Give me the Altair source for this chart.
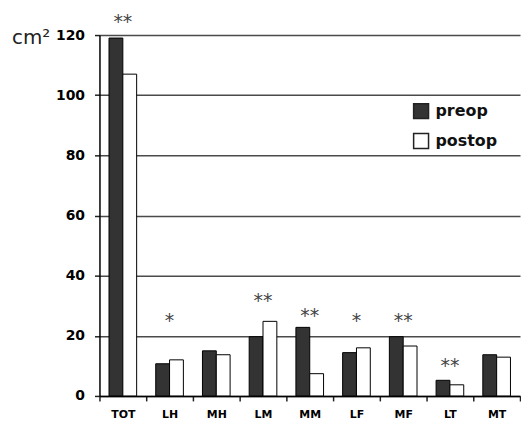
import altair as alt
import pandas as pd

categories = ["TOT", "LH", "MH", "LM", "MM", "LF", "MF", "LT", "MT"]
preop = [119, 10.7, 15.0, 19.7, 22.8, 14.4, 19.7, 5.2, 13.7]
postop = [107, 12.0, 13.7, 24.8, 7.4, 16.0, 16.6, 3.7, 12.9]
stars = ["**", "*", "", "**", "**", "*", "**", "**", ""]
star_y = [122.5, 23, None, 29.6, 24.6, 23, 23, 8.1, None]
groups = ["preop", "postop"]
y_ticks = [0, 20, 40, 60, 80, 100, 120]

rows = []
for c, a, b in zip(categories, preop, postop):
    rows.append({"region": c, "group": "preop", "area": a})
    rows.append({"region": c, "group": "postop", "area": b})
bars_df = pd.DataFrame(rows)
star_df = pd.DataFrame({"region": categories, "label": stars, "y": star_y}).dropna()

x_enc = alt.X(
    "region:N",
    sort=categories,
    scale=alt.Scale(paddingInner=0, paddingOuter=0),
    axis=alt.Axis(
        title=None, labelAngle=0, tickBand="extent", grid=False,
        labelFont="DejaVu Sans", labelFontWeight="bold", labelFontSize=11,
        labelColor="black", tickColor="#222", tickSize=5, tickWidth=1.5,
        domainColor="black", domainWidth=1.5, labelPadding=8,
    ),
)

bars = alt.Chart(bars_df).mark_bar(stroke="black", strokeWidth=1).encode(
    x=x_enc,
    xOffset=alt.XOffset("group:N", sort=groups,
                        scale=alt.Scale(paddingOuter=0.69, paddingInner=0)),
    y=alt.Y(
        "area:Q",
        scale=alt.Scale(domain=[0, 120]),
        axis=alt.Axis(
            values=y_ticks, title="cm²", titleAngle=0, titleAlign="right",
            titleBaseline="alphabetic", titleX=-50, titleY=8,
            titleFont="DejaVu Sans", titleFontWeight="normal", titleFontSize=20,
            titleColor="#222",
            labelFont="DejaVu Sans", labelFontWeight="bold", labelFontSize=14,
            labelColor="black", labelPadding=10,
            tickColor="#222", tickSize=5, tickWidth=1.5,
            domainColor="black", domainWidth=1.5,
            grid=True, gridColor="#4a4a4a", gridWidth=1.5,
        ),
    ),
    fill=alt.Fill(
        "group:N", sort=groups,
        scale=alt.Scale(domain=groups, range=["#333333", "#ffffff"]),
        legend=alt.Legend(
            title=None, orient="none", legendX=315, legendY=68, padding=0,
            symbolType="square", symbolSize=225, symbolStrokeColor="#222",
            symbolStrokeWidth=1.5, labelFont="DejaVu Sans", labelFontWeight="bold",
            labelFontSize=16, labelColor="#111", labelOffset=6, rowPadding=9,
        ),
    ),
)

text = alt.Chart(star_df).mark_text(
    font="DejaVu Sans", fontSize=19, baseline="alphabetic", color="#444"
).encode(
    x=alt.X("region:N", sort=categories),
    y=alt.Y("y:Q", title="cm²"),
    text="label:N",
)

chart = alt.layer(bars, text).properties(
    width=423, height=363,
    padding={"left": 3, "top": 3, "right": 0, "bottom": 0},
).configure_view(stroke=None)

chart.save("out.html", embed_options={"renderer": "svg", "actions": False})
